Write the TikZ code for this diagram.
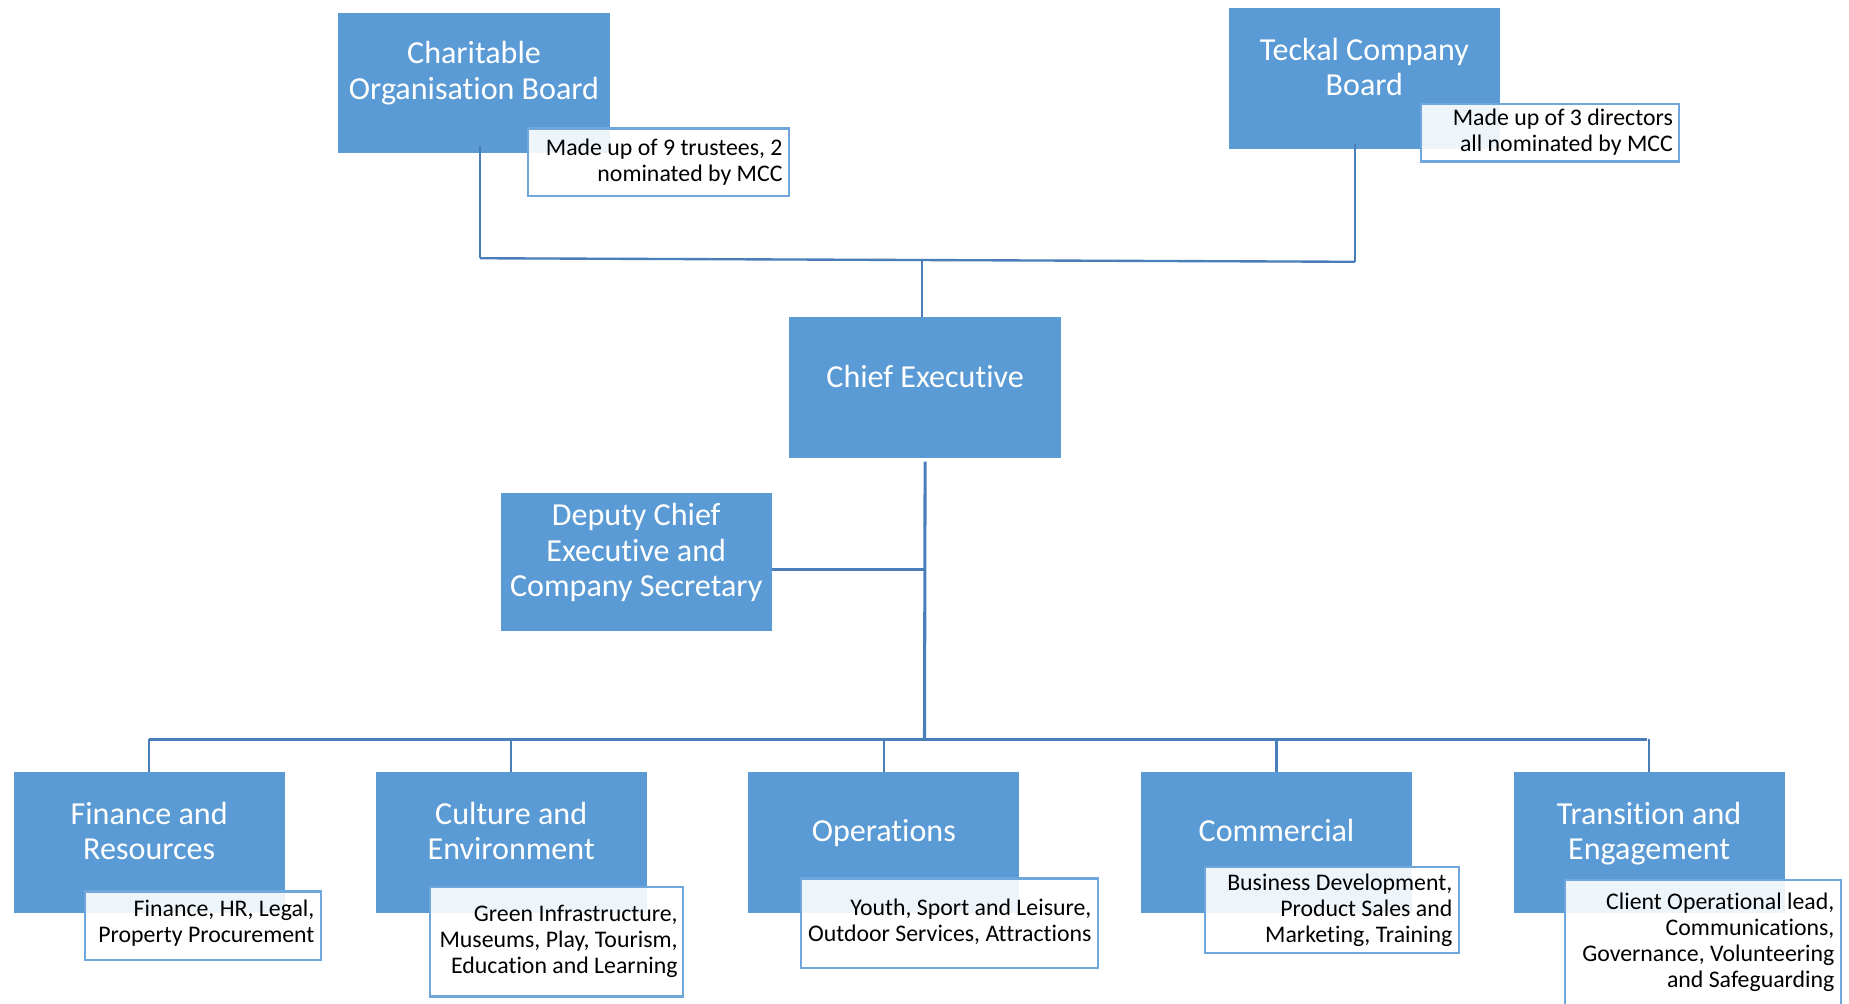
\documentclass[tikz,border=0pt]{standalone}
\usepackage{fontspec}
\setmainfont{Carlito}[RawFeature={-liga}]
\usetikzlibrary{calc}
\definecolor{boxblue}{HTML}{5B9BD5}
\definecolor{linkblue}{HTML}{4A7EBB}
\definecolor{notebd}{HTML}{6FA6DC}
\begin{document}
\begin{tikzpicture}[x=0.5pt,y=-0.5pt,
  unitbox/.style={draw=none, fill=boxblue, minimum width=115pt, minimum height=59.5pt, inner sep=0pt},
  notebox/.style={draw=notebd, line width=0.9pt, fill=white, fill opacity=0.9, inner sep=0pt},
  titletext/.style={text=white, font=\fontsize{13.6}{15}\selectfont, align=center, anchor=base, inner sep=0pt},
  notetext/.style={text=black, font=\fontsize{10.1}{11}\selectfont, align=right, anchor=base east, inner sep=0pt},
  link/.style={draw=linkblue, line width=1pt},
  mainlink/.style={draw=linkblue, line width=1.3pt}]
\useasboundingbox (0,0) rectangle (1568,850.6);
\clip (0,0) rectangle (1568,850.6);

% main boxes
\node[unitbox] (cob) at (402,70.5) {};
\node[unitbox] (tcb) at (1157,66.5) {};
\node[unitbox] (ce) at (784.5,328.5) {};
\node[unitbox, minimum height=58.5pt] (dce) at (539.5,476.5) {};
\node[unitbox] (fin) at (126.5,714.5) {};
\node[unitbox] (cul) at (433.5,714.5) {};
\node[unitbox] (ops) at (749.5,714.5) {};
\node[unitbox] (com) at (1082.5,714.5) {};
\node[unitbox] (tre) at (1398.5,714.5) {};

% junction coordinates
\coordinate (jl) at (407,219);
\coordinate (jr) at (1149,222);
\coordinate (jm) at (782,220.5);
\coordinate (dj) at (784,483);
\coordinate (bl) at (126,627);
\coordinate (br) at (1397,627);
\coordinate (bm) at (784,627);

% connectors
\draw[link] ([xshift=2.5pt,yshift=3.5pt]cob.south) -- (jl);
\draw[link] ([xshift=-4pt,yshift=2pt]tcb.south) -- (jr);
\draw[link] (jl) -- (jr);
\draw[link] (jm) -- (jm |- ce.north);
\draw[mainlink] ([yshift=-1.5pt]ce.south) -- (bm);
\draw[link] (dj -| dce.east) -- (dj);
\draw[link] (bl) -- (br);
\draw[link] (fin.north) -- (fin.north |- bl);
\draw[link] (cul.north) -- (cul.north |- bl);
\draw[link] (ops.north) -- (ops.north |- bl);
\draw[link] (com.north) -- (com.north |- bl);
\draw[link] (tre.north) -- (tre.north |- bl);

% note boxes
\node[notebox, minimum width=110.5pt, minimum height=28.5pt] (cobn) at (558.5,137.5) {};
\node[notebox, minimum width=109.5pt, minimum height=24.5pt] (tcbn) at (1314.5,112.5) {};
\node[notebox, minimum width=100pt, minimum height=29pt] (finn) at (172,785) {};
\node[notebox, minimum width=107pt, minimum height=46.5pt] (culn) at (472,798.5) {};
\node[notebox, minimum width=126pt, minimum height=38pt] (opsn) at (805,783) {};
\node[notebox, minimum width=107.5pt, minimum height=36.5pt] (comn) at (1129.5,771.5) {};
\node[notebox, minimum width=117pt, minimum height=57pt] (tren) at (1444,803) {};

% titles (anchor base = baseline of the last line)
\node[titletext] (cobt) at (402,84) {Charitable\\Organisation Board};
\node[titletext] (tcbt) at (1157,81) {Teckal Company\\Board};
\node[titletext] (cet) at (784.5,328.7) {Chief Executive};
\node[titletext] (dcet) at (539.5,506) {Deputy Chief\\Executive and\\Company Secretary};
\node[titletext] (fint) at (126.5,729) {Finance and\\Resources};
\node[titletext] (cult) at (433.5,729) {Culture and\\Environment};
\node[titletext] (opst) at (749.5,713.7) {Operations};
\node[titletext] (comt) at (1082.5,713.7) {Commercial};
\node[titletext] (tret) at (1398.5,729) {Transition and\\Engagement};

% note texts
\node[notetext] (cobnt) at (664,153.5) {Made up of 9 trustees, 2\\nominated by MCC};
\node[notetext] (tcbnt) at (1419,128.5) {Made up of 3 directors\\all nominated by MCC};
\node[notetext] (finnt) at (267,799.5) {Finance, HR, Legal,\\Property Procurement};
\node[notetext] (culnt) at (575,825.5) {Green Infrastructure,\\Museums, Play, Tourism,\\Education and Learning};
\node[notetext] (opsnt) at (926,798.5) {Youth, Sport and Leisure,\\Outdoor Services, Attractions};
\node[notetext] (comnt) at (1232,799.5) {Business Development,\\Product Sales and\\Marketing, Training};
\node[notetext] (trent) at (1556,837.5) {Client Operational lead,\\Communications,\\Governance, Volunteering\\and Safeguarding};
\end{tikzpicture}
\end{document}
